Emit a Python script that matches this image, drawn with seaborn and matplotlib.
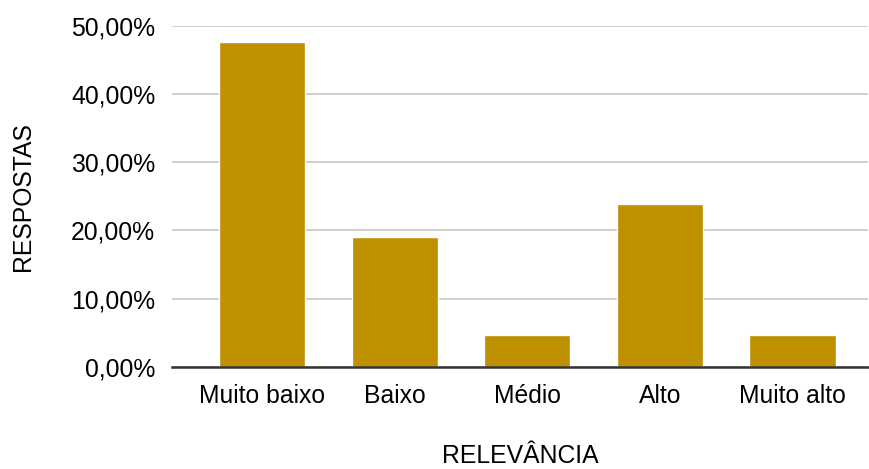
import matplotlib
matplotlib.use("Agg")
import matplotlib.pyplot as plt
import seaborn as sns
import pandas as pd
from matplotlib.ticker import FuncFormatter

categorias = ["Muito baixo", "Baixo", "Médio", "Alto", "Muito alto"]
respostas = [47.62, 19.05, 4.76, 23.81, 4.76]
yticks = [0, 10, 20, 30, 40, 50]

df = pd.DataFrame({"RELEVÂNCIA": categorias, "RESPOSTAS": respostas})

sns.set_theme(style="white")
plt.rcParams["font.family"] = ["Liberation Sans", "DejaVu Sans"]

fig = plt.figure(figsize=(8.69, 4.69), dpi=100)
ax = fig.add_axes([172/869, 1-367/469, (868-172)/869, (367-25.7)/469])

sns.barplot(data=df, x="RELEVÂNCIA", y="RESPOSTAS", color="#BF9000",
            saturation=1, width=0.65, ax=ax, zorder=3)

ax.set_xlim(-0.68, 4.57)
ax.set_ylim(0, 50)
ax.set_yticks(yticks)
ax.yaxis.set_major_formatter(FuncFormatter(lambda v, p: f"{v:.2f}%".replace(".", ",")))
ax.grid(axis="y", color="#cccccc", linewidth=1.3, zorder=0)
ax.grid(axis="x", visible=False)
for s in ["top", "right", "left"]:
    ax.spines[s].set_visible(False)
ax.spines["bottom"].set_color("#333333")
ax.spines["bottom"].set_linewidth(1.8)
ax.spines["bottom"].set_zorder(4)
ax.tick_params(axis="both", length=0, labelsize=17.8, colors="#000000")
ax.tick_params(axis="y", pad=12)
ax.tick_params(axis="x", pad=12)
ax.set_xlabel("RELEVÂNCIA", fontsize=17.8, labelpad=26, color="#000000")
ax.set_ylabel("RESPOSTAS", fontsize=17.8, labelpad=26, color="#000000")

fig.savefig("out.png", dpi=100)
